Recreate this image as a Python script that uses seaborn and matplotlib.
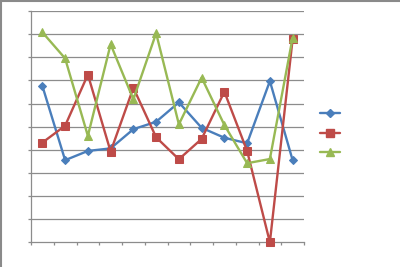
import matplotlib
matplotlib.use("Agg")
import matplotlib.pyplot as plt
from matplotlib.lines import Line2D
import seaborn as sns
import pandas as pd
import numpy as np

categories = list(range(1, 13))
series_a = [6.76, 3.55, 3.95, 4.06, 4.89, 5.21, 6.05, 4.95, 4.52, 4.28, 6.97, 3.55]
series_b = [4.31, 5.04, 7.25, 3.92, 6.68, 4.54, 3.59, 4.47, 6.51, 3.95, 0.0, 8.78]
series_c = [9.08, 7.95, 4.60, 8.56, 6.18, 9.04, 5.10, 7.12, 5.07, 3.42, 3.60, 8.85]
series_names = ["A", "B", "C"]
colors = ["#4A7EBB", "#BE4B48", "#98B954"]
markers = ["D", "s", "^"]
marker_sizes = [4.2, 5.3, 6.0]

sns.set_style("white")
plt.rcParams['font.family'] = ['DejaVu Sans']

df = pd.DataFrame({
    "x": categories * 3,
    "y": series_a + series_b + series_c,
    "s": [series_names[0]] * 12 + [series_names[1]] * 12 + [series_names[2]] * 12,
})
df["pos"] = df["x"] - 1

fig = plt.figure(figsize=(4.0, 2.67), dpi=100)
ax = fig.add_axes([31 / 400, (267 - 242.3) / 267, (304 - 31) / 400, (242.3 - 11) / 267])

grid_c = "#8C8C8C"
for v in range(1, 11):
    ax.axhline(v, color=grid_c, lw=0.9, zorder=0)

for name, c, m, ms in zip(series_names, colors, markers, marker_sizes):
    sub = df[df["s"] == name]
    sns.lineplot(data=sub, x="pos", y="y", ax=ax, color=c, lw=1.7,
                 marker=m, markersize=ms, markeredgecolor=c, markerfacecolor=c,
                 legend=False, zorder=3, clip_on=False)

ax.set_xlim(-0.5, 11.5)
ax.set_ylim(0, 10)
ax.set_xticks(np.arange(-0.5, 12, 1))
ax.set_yticks(range(0, 11))
ax.set_xticklabels([])
ax.set_yticklabels([])
ax.set_xlabel("")
ax.set_ylabel("")
ax.tick_params(axis="both", direction="out", length=2.5, width=0.9, color=grid_c)
ax.tick_params(axis="x", bottom=True)
ax.tick_params(axis="y", left=True)
for sp in ["top", "right"]:
    ax.spines[sp].set_visible(False)
for sp in ["left", "bottom"]:
    ax.spines[sp].set_color(grid_c)
    ax.spines[sp].set_linewidth(0.9)

handles = [Line2D([0], [0], color=c, lw=1.7, marker=m, markersize=ms,
                  markeredgecolor=c, markerfacecolor=c)
           for c, m, ms in zip(colors, markers, marker_sizes)]
leg = fig.legend(handles, ["", "", ""], loc="center left",
                 bbox_to_anchor=(310 / 400, 1 - 133.5 / 267), frameon=False,
                 handlelength=1.8, fontsize=8, labelspacing=0.85, handletextpad=0.2)

# outer chart border (top and left visible)
fig.add_artist(Line2D([0, 1], [1 - 0.5 / 267, 1 - 0.5 / 267], transform=fig.transFigure,
                      color="#8A8A8A", lw=1.5))
fig.add_artist(Line2D([0.5 / 400, 0.5 / 400], [0, 1], transform=fig.transFigure,
                      color="#8A8A8A", lw=1.5))

fig.savefig("out.png", dpi=100)
